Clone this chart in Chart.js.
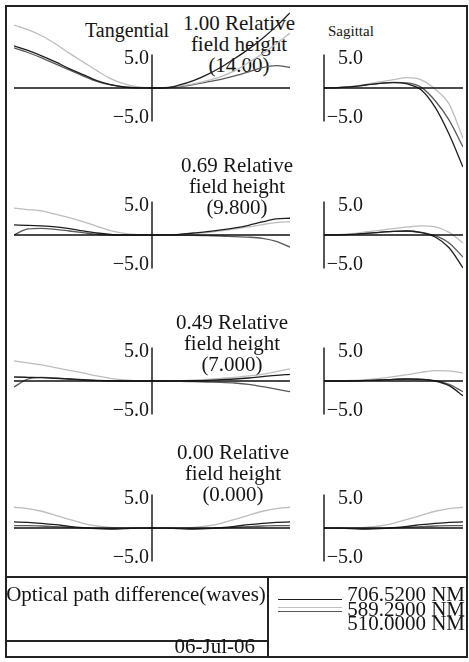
<!DOCTYPE html>
<html>
<head>
<meta charset="utf-8">
<script src="https://cdn.jsdelivr.net/npm/chart.js@4.4.1/dist/chart.umd.min.js"></script>
<style>
  html, body { margin: 0; padding: 0; background: #fff; }
  #page { position: relative; width: 469px; height: 662px; overflow: hidden; font-family: "Liberation Serif", "Times New Roman", serif; color: #151515; }
  #page canvas { position: absolute; }
  .t { position: absolute; white-space: nowrap; line-height: 1; }
  .rule { position: absolute; background: #222; }
</style>
</head>
<body>
<div id="page"></div>
<script>
// pupil coordinates of the fan samples
const pupilTan = [-1, -0.9, -0.8, -0.7, -0.6, -0.5, -0.4, -0.3, -0.2, -0.1, 0, 0.1, 0.2, 0.3, 0.4, 0.5, 0.6, 0.7, 0.8, 0.9, 1];
const pupilSag = [0, 0.1, 0.2, 0.3, 0.4, 0.5, 0.6, 0.7, 0.8, 0.9, 1];

const wavelengths = ["706.5200 NM", "589.2900 NM", "510.0000 NM"];
const waveColors = ["#1e1e1e", "#bdbdbd", "#5a5a5a"];
const fieldLabels = ["1.00 Relative", "0.69 Relative", "0.49 Relative", "0.00 Relative"];
const fieldHeights = ["(14.00)", "(9.800)", "(7.000)", "(0.000)"];
const tickValues = [5, -5];
const tickLabels = ["5.0", "\u22125.0"];

// OPD in waves, tangential fans
const tan1_706 = [6.3, 5.6, 4.8, 3.9, 2.9, 2.0, 1.1, 0.5, 0.15, 0.02, 0, 0.03, 0.45, 1.1, 2.0, 3.1, 4.4, 5.8, 7.4, 9.2, 11.2];
const tan1_589 = [9.4, 8.7, 7.8, 6.6, 5.2, 3.9, 2.6, 1.4, 0.6, 0.15, 0, 0.1, 0.3, 0.6, 1.1, 1.7, 2.6, 3.8, 5.1, 6.6, 8.2];
const tan1_510 = [6.0, 5.3, 4.5, 3.6, 2.7, 1.8, 1.0, 0.45, 0.12, 0.02, 0, 0.03, 0.2, 0.5, 0.9, 1.3, 1.8, 2.4, 3.05, 3.35, 3.1];

const tan2_706 = [1.5, 1.45, 1.35, 1.2, 0.95, 0.6, 0.3, 0.1, 0.02, 0, 0, 0.02, 0.1, 0.3, 0.5, 0.75, 1.05, 1.45, 1.95, 2.4, 2.5];
const tan2_589 = [4.0, 3.8, 3.6, 3.1, 2.6, 2.0, 1.3, 0.65, 0.25, 0.05, 0, 0.02, 0.1, 0.2, 0.35, 0.6, 0.9, 1.2, 1.55, 1.85, 2.0];
const tan2_510 = [0, 0.9, 1.0, 0.85, 0.6, 0.35, 0.1, 0, -0.05, -0.02, 0, 0, -0.02, -0.05, -0.1, -0.15, -0.25, -0.32, -0.5, -0.95, -1.8];

const tan3_706 = [0.6, 0.55, 0.5, 0.4, 0.3, 0.2, 0.1, 0.05, 0, 0, 0, 0, 0.02, 0.05, 0.1, 0.2, 0.3, 0.45, 0.65, 0.85, 1.0];
const tan3_589 = [3.0, 2.7, 2.4, 2.0, 1.6, 1.2, 0.75, 0.4, 0.15, 0.03, 0, 0, 0.05, 0.12, 0.25, 0.4, 0.55, 0.75, 1.0, 1.4, 1.8];
const tan3_510 = [-0.9, 0.3, 0.55, 0.45, 0.3, 0.15, 0.05, 0, -0.02, 0, 0, -0.02, -0.05, -0.1, -0.15, -0.2, -0.3, -0.5, -0.85, -1.2, -1.6];

const tan4_706 = [0.9, 0.85, 0.7, 0.5, 0.25, 0.05, -0.1, -0.15, -0.1, -0.03, 0, -0.03, -0.1, -0.15, -0.1, 0.05, 0.25, 0.5, 0.7, 0.85, 0.9];
const tan4_589 = [3.1, 2.9, 2.5, 1.9, 1.3, 0.7, 0.3, 0.1, 0, 0, 0, 0, 0, 0.1, 0.3, 0.7, 1.3, 1.9, 2.5, 2.9, 3.1];
const tan4_510 = [0.35, 0.35, 0.3, 0.2, 0.1, 0, -0.05, -0.08, -0.05, -0.02, 0, -0.02, -0.05, -0.08, -0.05, 0, 0.1, 0.2, 0.3, 0.35, 0.35];

// OPD in waves, sagittal fans
const sag1_706 = [0, 0.05, 0.2, 0.45, 0.7, 0.8, 0.6, -0.3, -2.9, -6.9, -11.8];
const sag1_589 = [0, 0.05, 0.25, 0.55, 0.9, 1.25, 1.55, 1.2, -0.2, -2.4, -7.5];
const sag1_510 = [0, 0.05, 0.2, 0.45, 0.7, 0.85, 0.75, 0.1, -1.9, -4.8, -8.8];

const sag2_706 = [0, 0.03, 0.1, 0.25, 0.4, 0.55, 0.6, 0.35, -0.3, -1.9, -4.9];
const sag2_589 = [0, 0.05, 0.2, 0.45, 0.7, 0.95, 1.2, 1.35, 1.2, 0.4, -1.2];
const sag2_510 = [0, 0.03, 0.1, 0.25, 0.4, 0.55, 0.6, 0.4, -0.1, -1.2, -3.3];

const sag3_706 = [0, 0, 0.02, 0.08, 0.15, 0.25, 0.3, 0.25, 0, -0.7, -2.2];
const sag3_589 = [0, 0.02, 0.08, 0.2, 0.4, 0.65, 0.95, 1.3, 1.55, 1.5, 1.2];
const sag3_510 = [0, 0, 0.02, 0.08, 0.15, 0.25, 0.3, 0.25, 0.05, -0.5, -1.6];

const sag4_706 = [0, -0.03, -0.1, -0.15, -0.1, 0.05, 0.25, 0.5, 0.7, 0.85, 0.9];
const sag4_589 = [0, 0, 0, 0.1, 0.3, 0.7, 1.3, 1.9, 2.5, 2.9, 3.1];
const sag4_510 = [0, -0.02, -0.05, -0.08, -0.05, 0, 0.1, 0.2, 0.3, 0.35, 0.35];

const tanFans = [[tan1_706, tan1_589, tan1_510], [tan2_706, tan2_589, tan2_510], [tan3_706, tan3_589, tan3_510], [tan4_706, tan4_589, tan4_510]];
const sagFans = [[sag1_706, sag1_589, sag1_510], [sag2_706, sag2_589, sag2_510], [sag3_706, sag3_589, sag3_510], [sag4_706, sag4_589, sag4_510]];

// ---- layout ----
const page = document.getElementById("page");
const rowZero = [88, 235, 381, 528];
const titleX = [239, 237, 232, 233];
const titleY = [31, 173, 330, 460];
const PX_PER_WAVE = 6.7;
const CANVAS_H = 220;
const PAD = 6;

function addText(str, x, baseline, size, align) {
  const d = document.createElement("div");
  d.className = "t";
  d.textContent = str;
  d.style.fontSize = size + "px";
  d.style.top = (baseline - size * 0.8375) + "px";
  if (align === "center") {
    d.style.left = (x - 200) + "px"; d.style.width = "400px"; d.style.textAlign = "center";
  } else if (align === "right") {
    d.style.left = (x - 400) + "px"; d.style.width = "400px"; d.style.textAlign = "right";
  } else {
    d.style.left = x + "px";
  }
  page.appendChild(d);
}

function addRule(x, y, w, h, color) {
  const d = document.createElement("div");
  d.className = "rule";
  d.style.left = x + "px"; d.style.top = y + "px";
  d.style.width = w + "px"; d.style.height = h + "px";
  if (color) d.style.background = color;
  page.appendChild(d);
}

// cross axes and the +/-5 wave tick labels
const fanAxes = {
  id: "fanAxes",
  afterDatasetsDraw(chart, args, opts) {
    const { ctx, scales: { x, y } } = chart;
    const x0 = x.getPixelForValue(0);
    const y0 = y.getPixelForValue(0);
    ctx.save();
    ctx.strokeStyle = "#111";
    ctx.lineWidth = 1.4;
    ctx.beginPath();
    ctx.moveTo(x.getPixelForValue(x.min), y0);
    ctx.lineTo(x.getPixelForValue(x.max), y0);
    ctx.moveTo(x0, y.getPixelForValue(tickValues[0]));
    ctx.lineTo(x0, y.getPixelForValue(tickValues[1]));
    ctx.stroke();
    ctx.fillStyle = "#151515";
    ctx.font = '20px "Liberation Serif"';
    ctx.textAlign = "right";
    ctx.textBaseline = "alphabetic";
    const lx = opts.side === "tan" ? x0 - 3 : x0 + 39;
    ctx.fillText(tickLabels[0], lx, y.getPixelForValue(tickValues[0]) + 9.5);
    ctx.fillText(tickLabels[1], lx, y.getPixelForValue(tickValues[1]) + 1.5);
    ctx.restore();
  }
};

function makeFan(side, row, series) {
  const pupil = side === "tan" ? pupilTan : pupilSag;
  const left = side === "tan" ? 14 : 324;
  const width = side === "tan" ? 276 : 139;
  const c = document.createElement("canvas");
  c.width = width + 2 * PAD;
  c.height = CANVAS_H;
  c.style.left = (left - PAD) + "px";
  c.style.top = (rowZero[row] - CANVAS_H / 2) + "px";
  page.appendChild(c);
  const half = CANVAS_H / 2 / PX_PER_WAVE;
  new Chart(c, {
    type: "line",
    data: {
      datasets: series.map((vals, i) => ({
        label: wavelengths[i],
        data: vals.map((v, k) => ({ x: pupil[k], y: v })),
        borderColor: waveColors[i],
        borderWidth: 1.3,
        pointRadius: 0,
        cubicInterpolationMode: "monotone",
        fill: false
      }))
    },
    options: {
      responsive: false,
      animation: false,
      devicePixelRatio: 1,
      events: [],
      layout: { padding: { left: PAD, right: PAD, top: 0, bottom: 0 } },
      scales: {
        x: { type: "linear", min: side === "tan" ? -1 : 0, max: 1, display: false },
        y: { type: "linear", min: -half, max: half, display: false }
      },
      plugins: { legend: { display: false }, tooltip: { enabled: false }, fanAxes: { side: side } }
    },
    plugins: [fanAxes]
  });
}

// frame and info box
addRule(5, 5, 463, 2);
addRule(5, 656, 463, 2);
addRule(5, 5, 2, 653);
addRule(466, 5, 2, 653);
addRule(5, 576, 463, 1.5);
addRule(267, 576, 1.5, 81);
addRule(5, 640, 263, 1.5);

addText("Tangential", 85, 37, 20, "left");
addText("Sagittal", 328, 37, 15, "left");

for (let r = 0; r < 4; r++) {
  addText(fieldLabels[r], titleX[r], titleY[r], 21, "center");
  addText("field height", titleX[r], titleY[r] + 21, 21, "center");
  addText(fieldHeights[r], titleX[r], titleY[r] + 42, 21, "center");
  makeFan("tan", r, tanFans[r]);
  makeFan("sag", r, sagFans[r]);
}

addText("Optical path difference(waves)", 136, 602, 21, "center");
addText("06-Jul-06", 255, 654, 21, "right");
addText(wavelengths[0], 465, 602, 21, "right");
addText(wavelengths[1], 465, 617, 21, "right");
addText(wavelengths[2], 465, 631, 21, "right");
addRule(278, 598.5, 64, 1.3, waveColors[0]);
addRule(278, 606.5, 64, 1.3, waveColors[1]);
addRule(278, 610.5, 64, 1.3, waveColors[2]);
</script>
</body>
</html>
